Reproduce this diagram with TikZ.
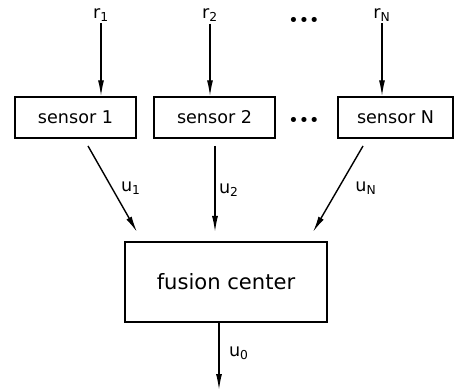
\documentclass[tikz,border=0pt]{standalone}
\usepackage{fontspec}
\setmainfont{DejaVu Sans}
\usetikzlibrary{arrows.meta}

\begin{document}
\begin{tikzpicture}[
  sensor/.style={rectangle, draw, thick, minimum width=2.42cm,
                 minimum height=0.82cm, font=\normalsize},
  fusion/.style={rectangle, draw, thick, minimum width=4.04cm,
                 minimum height=1.6cm, font=\large},
  sig/.style={draw, thick, -{Latex[length=3.2mm, width=1.2mm]}},
  lab/.style={font=\normalsize, inner sep=1pt},
  dots/.style={font=\normalsize, inner sep=0pt},
]
\useasboundingbox (0,0) rectangle (9.12,-7.8);
\node[sensor] (s1) at (1.51,-2.35) {sensor 1};
\node[sensor] (s2) at (4.29,-2.35) {sensor 2};
\node[sensor, minimum width=2.3cm] (sN) at (7.91,-2.35) {sensor N};
\node[fusion] (fc) at (4.52,-5.64) {fusion center};
% observations coming into the sensors
\node[lab] (r1) at (2.02,-0.30) {r\textsubscript{1}};
\node[lab] (r2) at (4.20,-0.30) {r\textsubscript{2}};
\node[lab] (rN) at (7.64,-0.30) {r\textsubscript{N}};
\node[dots] (topdots) at (6.08,-0.44) {\textbullet\textbullet\textbullet};
\node[dots] (middots) at (6.08,-2.44) {\textbullet\textbullet\textbullet};
\draw[sig] (r1) -- (s1.north -| r1);
\draw[sig] (r2) -- (s2.north -| r2);
\draw[sig] (rN) -- (sN.north -| rN);
% local decisions sent to the fusion center
\coordinate (u1a) at (1.76,-2.92);
\coordinate (u1b) at (2.74,-4.64);
\coordinate (u2a) at (4.30,-2.92);
\coordinate (u2b) at (4.30,-4.64);
\coordinate (uNa) at (7.26,-2.92);
\coordinate (uNb) at (6.26,-4.64);
\draw[sig] (u1a) -- (u1b);
\draw[sig] (u2a) -- (u2b);
\draw[sig] (uNa) -- (uNb);
\node[lab] (u1) at (2.62,-3.76) {u\textsubscript{1}};
\node[lab] (u2) at (4.58,-3.80) {u\textsubscript{2}};
\node[lab] (uN) at (7.32,-3.76) {u\textsubscript{N}};
% global decision
\coordinate (out) at (4.38,-7.8);
\draw[sig] (fc.south -| out) -- (out);
\node[lab] (u0) at (4.78,-7.06) {u\textsubscript{0}};
\end{tikzpicture}
\end{document}
